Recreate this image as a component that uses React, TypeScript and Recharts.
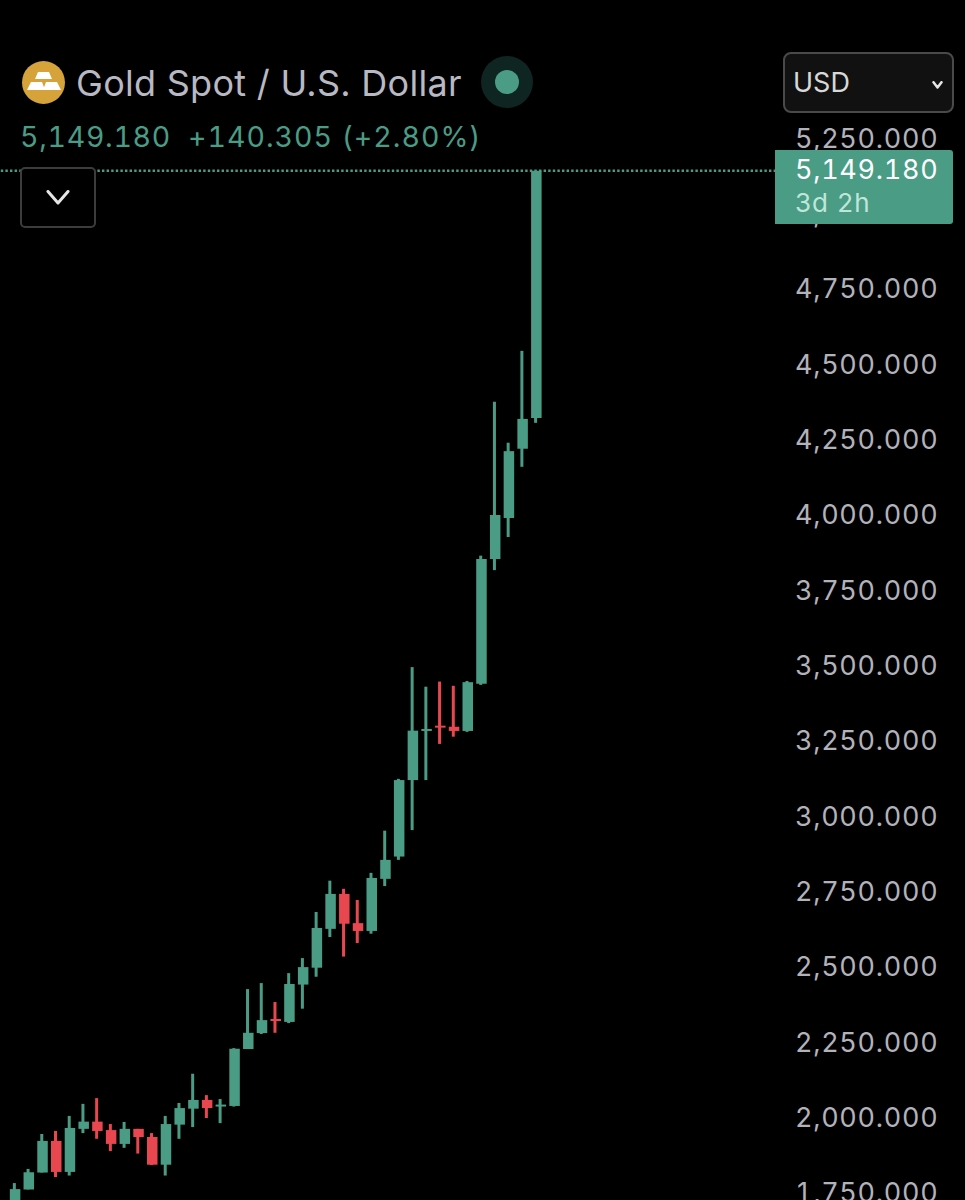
import { Bar, Cell, ComposedChart, ReferenceLine, XAxis, YAxis } from 'recharts';

const FONT = 'Inter, "Noto Sans", sans-serif';
const GREEN = '#4a9c85';
const RED = '#e8474f';
const NUMS = { fontVariantNumeric: 'tabular-nums', letterSpacing: 0.7 };

const opens = [
  1715, 1767, 1823, 1928, 1825, 1968, 1992, 1964, 1918, 1968, 1941, 1849, 1982,
  2035, 2064, 2042, 2044, 2233, 2286, 2332, 2323, 2447, 2503, 2632, 2748, 2651,
  2625, 2798, 2872, 3126, 3289, 3306, 3303, 3289, 3446, 3860, 3996, 4226, 4328,
];
const highs = [
  1788, 1835, 1951, 1961, 2011, 2051, 2070, 1984, 1991, 1968, 1954, 2011, 2054,
  2151, 2080, 2067, 2236, 2432, 2452, 2389, 2485, 2535, 2688, 2792, 2765, 2728,
  2818, 2958, 3130, 3501, 3436, 3453, 3439, 3455, 3871, 4382, 4246, 4551, 5149.18,
];
const lows = [
  1699, 1767, 1823, 1808, 1813, 1954, 1935, 1894, 1905, 1886, 1848, 1813, 1935,
  1974, 2004, 1987, 2042, 2233, 2283, 2287, 2319, 2367, 2473, 2605, 2540, 2585,
  2616, 2774, 2861, 2960, 3126, 3246, 3270, 3286, 3442, 3823, 3933, 4166, 4312,
];
const closes = [
  1768, 1824, 1928, 1825, 1971, 1992, 1961, 1918, 1968, 1941, 1849, 1984, 2037,
  2064, 2037, 2047, 2234, 2287, 2329, 2326, 2449, 2505, 2635, 2748, 2649, 2625,
  2801, 2861, 3126, 3290, 3293, 3300, 3289, 3451, 3860, 4006, 4218, 4325, 5149.18,
];
// empty slots to the right of the last candle
const FUTURE_SLOTS = 17;

const priceTicks = [
  1750, 2000, 2250, 2500, 2750, 3000, 3250, 3500, 3750, 4000, 4250, 4500, 4750, 5000, 5250,
];
const lastPrice = 5149.18;

const candles = opens.map((open, i) => ({
  slot: i,
  wick: [lows[i], highs[i]],
  body: [Math.min(open, closes[i]), Math.max(open, closes[i])],
  up: closes[i] >= open,
}));
const data = [
  ...candles,
  ...Array.from({ length: FUTURE_SLOTS }, (_, i) => ({ slot: opens.length + i })),
];

const Chevron = ({ size, width }: { size: number; width: number }) => (
  <svg width={size} height={size / 2 + width} style={{ display: 'block' }}>
    <polyline
      points={`${width},${width / 2} ${size / 2},${size / 2} ${size - width},${width / 2}`}
      fill="none"
      stroke="#e6e6e6"
      strokeWidth={width}
      strokeLinecap="round"
      strokeLinejoin="round"
    />
  </svg>
);

const abs = (left: number, top: number, rest: object = {}) =>
  ({ position: 'absolute', left, top, whiteSpace: 'nowrap', ...rest }) as const;

export default function App() {
  return (
    <div style={{ position: 'absolute', left: 0, top: 0, width: 965, height: 1200, overflow: 'hidden', background: '#000', fontFamily: FONT }}>
      <ComposedChart width={965} height={1230} data={data} barGap={0} margin={{ top: 0, right: 0, bottom: 0, left: 0 }}>
        <XAxis xAxisId="wick" dataKey="slot" hide padding={{ left: 7.84, right: 0 }} />
        <XAxis xAxisId="body" dataKey="slot" hide padding={{ left: 7.84, right: 0 }} />
        <YAxis
          orientation="right"
          width={189}
          domain={[1632.2, 5715.8]}
          ticks={priceTicks}
          interval={0}
          axisLine={false}
          tickLine={false}
          tickSize={0}
          tickMargin={19}
          tickFormatter={(v: number) => v.toLocaleString('en-US', { minimumFractionDigits: 3 })}
          tick={{ fill: '#b2b3ba', fontSize: 27, fontFamily: FONT, dy: -2, style: NUMS }}
        />
        <ReferenceLine xAxisId="wick" y={lastPrice} stroke={GREEN} strokeWidth={2.5} strokeDasharray="2.4 2.2" />
        <Bar xAxisId="wick" dataKey="wick" barSize={3} isAnimationActive={false}>
          {candles.map((c) => (
            <Cell key={c.slot} fill={c.up ? GREEN : RED} />
          ))}
        </Bar>
        <Bar xAxisId="body" dataKey="body" barSize={10.5} minPointSize={2} isAnimationActive={false}>
          {candles.map((c) => (
            <Cell key={c.slot} fill={c.up ? GREEN : RED} />
          ))}
        </Bar>
      </ComposedChart>

      {/* symbol header */}
      <svg style={abs(21, 60)} width={46} height={46} viewBox="0 0 46 46">
        <circle cx={22.5} cy={22.5} r={21.5} fill="#d6a23a" />
        <polygon points="17,12 28,12 31,19 14,19" fill="#fff" />
        <polygon points="10,22 21,22 24,30 6,30" fill="#fff" />
        <polygon points="25,22 36,22 40,30 22,30" fill="#fff" />
      </svg>
      <div style={abs(76, 60, { fontSize: 36, lineHeight: '46px', letterSpacing: 0.28, color: '#b8b9c2' })}>Gold Spot / U.S. Dollar</div>
      <svg style={abs(481, 56)} width={52} height={52}>
        <circle cx={26} cy={26} r={26} fill="#0f2522" />
        <circle cx={26} cy={26} r={12} fill={GREEN} />
      </svg>
      <div style={abs(20, 119, { fontSize: 28.5, lineHeight: '36px', color: GREEN, ...NUMS })}>5,149.180</div>
      <div style={abs(188, 119, { fontSize: 28.5, lineHeight: '36px', color: GREEN, ...NUMS, letterSpacing: 1 })}>+140.305 (+2.80%)</div>

      <div style={abs(20, 167, { width: 76, height: 61, boxSizing: 'border-box', border: '2px solid #3c3c3c', borderRadius: 5, background: '#000', display: 'flex', alignItems: 'center', justifyContent: 'center' })}>
        <Chevron size={26} width={3} />
      </div>

      {/* currency selector */}
      <div style={abs(783, 52, { width: 171, height: 61, boxSizing: 'border-box', border: '2px solid #4a4a4a', borderRadius: 8, background: '#111' })}>
        <div style={abs(8, 0, { fontSize: 27, lineHeight: '57px', color: '#d8d8d8' })}>USD</div>
        <div style={abs(146, 27)}>
          <Chevron size={13} width={2.5} />
        </div>
      </div>

      {/* last price tag */}
      <div style={abs(775, 150, { width: 178, height: 74, background: GREEN, borderRadius: '0 3px 3px 0' })}>
        <div style={abs(20, 2, { fontSize: 27, lineHeight: '36px', color: '#fff', ...NUMS })}>5,149.180</div>
        <div style={abs(20, 35, { fontSize: 26, lineHeight: '36px', color: '#c0e6da', letterSpacing: 1 })}>3d 2h</div>
      </div>
    </div>
  );
}
